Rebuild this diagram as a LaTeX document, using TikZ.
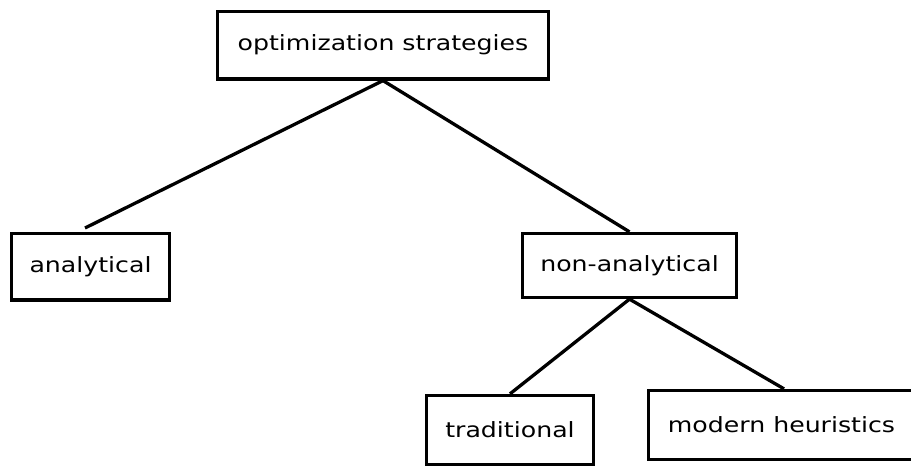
\documentclass[tikz,border=0pt]{standalone}
\usepackage{fontspec}
\setmainfont{DejaVu Sans}[FakeStretch=1.2]
\begin{document}
\begin{tikzpicture}[x=1pt,y=-1pt,
  box/.style={draw=black,line width=3.3pt,fill=white,inner sep=0pt,
    minimum width=#1,font=\fontsize{21}{25}\selectfont},
  link/.style={draw=black,line width=3.3pt}]
\useasboundingbox (0,0) rectangle (911,468);

% tree nodes
\node[box=331pt,minimum height=67.5pt] (top)  at (383,45.2)   {optimization strategies};
\node[box=158pt,minimum height=66.5pt] (ana)  at (90.5,266.8) {analytical};
\node[box=214pt,minimum height=64pt]   (non)  at (629.5,265.5){non-analytical};
\node[box=167pt,minimum height=69pt]   (trad) at (510,430)    {traditional};
\node[box=266pt,minimum height=69pt]   (mod)  at (781.5,425)  {modern heuristics};

% free end of the left branch, stopping just short of its box
\coordinate (anaTop) at (85,228);

% branches
\draw[link] (top.south) -- (anaTop);
\draw[link] (top.south) -- (non.north);
\draw[link] (non.south) -- (trad.north);
\draw[link] (non.south) -- ([xshift=2.5pt]mod.north);
\end{tikzpicture}
\end{document}
